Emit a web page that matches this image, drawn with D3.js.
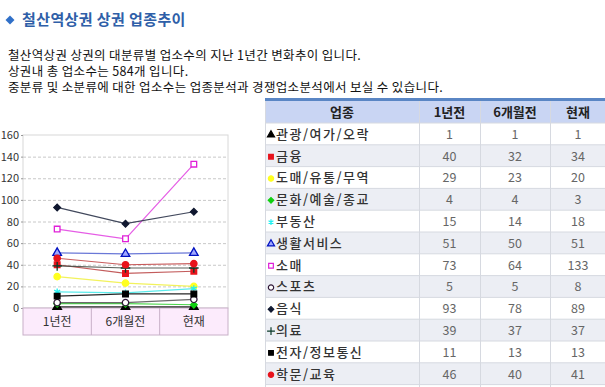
<html>
<head>
<meta charset="utf-8">
<script src="https://d3js.org/d3.v7.min.js"></script>
<style>
body { margin: 0; background: #fff; }
text { font-family: "Noto Sans CJK KR", "Noto Sans", sans-serif; }
</style>
</head>
<body>
<svg width="605" height="387"></svg>
<script>
// data
var periods = ["1년전", "6개월전", "현재"];
var names = ["관광/여가/오락", "금융", "도매/유통/무역", "문화/예술/종교", "부동산", "생활서비스",
             "소매", "스포츠", "음식", "의료", "전자/정보통신", "학문/교육"];
var v1 = [1, 40, 29, 4, 15, 51, 73, 5, 93, 39, 11, 46];
var v6 = [1, 32, 23, 4, 14, 50, 64, 5, 78, 37, 13, 40];
var vNow = [1, 34, 20, 3, 18, 51, 133, 8, 89, 37, 13, 41];
var yTicks = [0, 20, 40, 60, 80, 100, 120, 140, 160];
var introLines = [
  "철산역상권 상권의 대분류별 업소수의 지난 1년간 변화추이 입니다.",
  "상권내 총 업소수는 584개 입니다.",
  "중분류 및 소분류에 대한 업소수는 업종분석과 경쟁업소분석에서 보실 수 있습니다."
];

// marker styles per series (rot = square turned into a diamond)
var styles = [
  {sym: d3.symbolTriangle, fill: "#000", stroke: "#000", line: "#000"},
  {sym: d3.symbolSquare, fill: "#e8141c", stroke: "#e8141c", line: "#b84040"},
  {sym: d3.symbolCircle, fill: "#ffff20", stroke: "#ffff20", line: "#f0f040"},
  {sym: d3.symbolSquare, rot: true, fill: "#10d010", stroke: "#10d010", line: "#30d030"},
  {sym: d3.symbolAsterisk || d3.symbolCross, fill: "#20f0f0", stroke: "#20f0f0", line: "#40e8e8"},
  {sym: d3.symbolTriangle, fill: "#a0a8ff", stroke: "#0010c0", line: "#5060d0"},
  {sym: d3.symbolSquare, fill: "#fff", stroke: "#e020d8", line: "#e040e0"},
  {sym: d3.symbolCircle, fill: "#fff", stroke: "#301838", line: "#505050"},
  {sym: d3.symbolSquare, rot: true, fill: "#101830", stroke: "#101830", line: "#202840"},
  {sym: d3.symbolPlus || d3.symbolCross, fill: "#0a3a28", stroke: "#0a3a28", line: "#404840"},
  {sym: d3.symbolSquare, fill: "#000", stroke: "#000", line: "#000"},
  {sym: d3.symbolCircle, fill: "#e8141c", stroke: "#e8141c", line: "#c04040"}
];

var svg = d3.select("svg");

// title
svg.append("path")
  .attr("d", d3.symbol().type(d3.symbolSquare).size(40)())
  .attr("transform", "translate(10,20) rotate(45)")
  .attr("fill", "#3070c8");
svg.append("text").attr("x", 22).attr("y", 25)
  .attr("font-size", 15).attr("font-weight", "bold").attr("fill", "#2f5fa8")
  .attr("letter-spacing", 0.4)
  .text("철산역상권 상권 업종추이");

svg.selectAll(".intro").data(introLines).enter().append("text")
  .attr("x", 8).attr("y", function (d, i) { return 60 + i * 16; })
  .attr("font-size", 12.5).attr("fill", "#111").attr("letter-spacing", 0.35)
  .text(function (d) { return d; });

// chart
var x = d3.scaleBand().domain(periods).range([23, 228]);
var y = d3.scaleLinear().domain([0, 160]).range([308, 135]);

var g = svg.append("g");
g.append("rect").attr("x", 23).attr("y", 135).attr("width", 205).attr("height", 173)
  .attr("fill", "#fff").attr("stroke", "#d8d8d8");

g.selectAll(".grid").data(yTicks.filter(function (d) { return d > 0 && d < 160; }))
  .enter().append("line")
  .attr("x1", 23).attr("x2", 228)
  .attr("y1", function (d) { return y(d) + 0.5; }).attr("y2", function (d) { return y(d) + 0.5; })
  .attr("stroke", "#c8c8c8").attr("stroke-dasharray", "3,2");

var yAxis = g.append("g").attr("transform", "translate(23,0)")
  .call(d3.axisLeft(y).tickValues(yTicks).tickSize(2).tickPadding(2));
yAxis.select(".domain").remove();
yAxis.selectAll("line").attr("stroke", "#999");
yAxis.selectAll("text").attr("font-size", 11).attr("fill", "#333")
  .attr("font-family", "Liberation Sans, Arial, sans-serif");

// category band
g.append("rect").attr("x", 23).attr("y", 308).attr("width", 205).attr("height", 27)
  .attr("fill", "#fcebfc").attr("stroke", "#c8b0c8");
g.selectAll(".sep").data(periods.slice(1)).enter().append("line")
  .attr("x1", function (d) { return x(d); }).attr("x2", function (d) { return x(d); })
  .attr("y1", 308).attr("y2", 335).attr("stroke", "#c8b0c8");
g.selectAll(".cat").data(periods).enter().append("text")
  .attr("x", function (d) { return x(d) + x.bandwidth() / 2; }).attr("y", 326)
  .attr("text-anchor", "middle").attr("font-size", 12).attr("fill", "#333")
  .text(function (d) { return d; });

var series = names.map(function (n, i) {
  return {name: n, st: styles[i], vals: [v1[i], v6[i], vNow[i]]};
});
var line = d3.line()
  .x(function (d, i) { return x(periods[i]) + x.bandwidth() / 2; })
  .y(function (d) { return y(d); });

function marker(st, size) {
  return d3.symbol().type(st.sym).size(st.rot ? size * 0.7 : size)();
}

var sg = g.selectAll(".series").data(series).enter().append("g");
sg.append("path").attr("d", function (d) { return line(d.vals); })
  .attr("fill", "none").attr("stroke", function (d) { return d.st.line; })
  .attr("stroke-width", 1.2).attr("stroke-opacity", 0.85);
sg.selectAll(".pt").data(function (d) { return d.vals.map(function (v, i) { return {v: v, i: i, st: d.st}; }); })
  .enter().append("path")
  .attr("d", function (d) { return marker(d.st, 32); })
  .attr("transform", function (d) {
    return "translate(" + (x(periods[d.i]) + x.bandwidth() / 2) + "," + y(d.v) + ")" + (d.st.rot ? " rotate(45)" : "");
  })
  .attr("fill", function (d) { return d.st.fill; })
  .attr("stroke", function (d) { return d.st.stroke; })
  .attr("stroke-width", 1.3);

// table
var colX = [265, 419, 480, 550, 606];
var headers = ["업종"].concat(periods);
var tableTop = 98, headH = 25, rowH = 21.8;
var t = svg.append("g");
t.append("rect").attr("x", 265).attr("y", tableTop).attr("width", 341).attr("height", 3).attr("fill", "#5a86c4");
t.append("rect").attr("x", 265).attr("y", tableTop + 3).attr("width", 341).attr("height", headH - 3).attr("fill", "#c9d5f3");
t.selectAll(".hd").data(headers).enter().append("text")
  .attr("x", function (d, i) { return (colX[i] + colX[i + 1]) / 2; })
  .attr("y", tableTop + 19).attr("text-anchor", "middle")
  .attr("font-size", 13).attr("font-weight", "bold").attr("fill", "#222")
  .text(function (d) { return d; });

var rows = t.selectAll(".row").data(series).enter().append("g")
  .attr("transform", function (d, i) { return "translate(0," + (tableTop + headH + i * rowH) + ")"; });
rows.append("rect").attr("x", 265).attr("width", 341).attr("height", rowH)
  .attr("fill", function (d, i) { return i % 2 ? "#eceef4" : "#fff"; });
rows.append("path")
  .attr("d", function (d) { return marker(d.st, 22); })
  .attr("transform", function (d) { return "translate(271," + (rowH / 2 + 1) + ")" + (d.st.rot ? " rotate(45)" : ""); })
  .attr("fill", function (d) { return d.st.fill; })
  .attr("stroke", function (d) { return d.st.stroke; })
  .attr("stroke-width", 1.2);
rows.append("text").attr("x", 276).attr("y", rowH / 2 + 5)
  .attr("font-size", 13).attr("font-weight", 500).attr("fill", "#333").attr("letter-spacing", 1.5)
  .text(function (d) { return d.name; });
rows.selectAll(".num").data(function (d) { return d.vals; }).enter().append("text")
  .attr("x", function (d, i) { return (colX[i + 1] + colX[i + 2]) / 2; })
  .attr("y", rowH / 2 + 5).attr("text-anchor", "middle")
  .attr("font-size", 12.5).attr("fill", "#666")
  .text(function (d) { return d; });

// grid lines of table
t.selectAll(".hl").data(d3.range(series.length + 1)).enter().append("line")
  .attr("x1", 265).attr("x2", 606)
  .attr("y1", function (d) { return tableTop + headH + d * rowH; })
  .attr("y2", function (d) { return tableTop + headH + d * rowH; })
  .attr("stroke", "#d6d9e0");
t.selectAll(".vl").data(colX.slice(0, 4)).enter().append("line")
  .attr("x1", function (d) { return d + 0.5; }).attr("x2", function (d) { return d + 0.5; })
  .attr("y1", tableTop + 3).attr("y2", 387)
  .attr("stroke", "#d6d9e0");
</script>
</body>
</html>
